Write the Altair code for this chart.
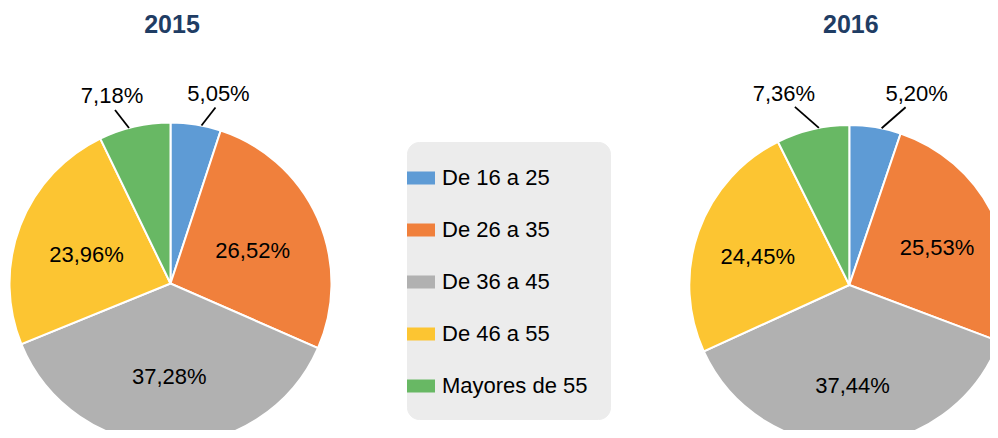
import altair as alt
import pandas as pd

categories = ["De 16 a 25", "De 26 a 35", "De 36 a 45", "De 46 a 55", "Mayores de 55"]
years = ["2015", "2016"]
values_2015 = [5.05, 26.52, 37.28, 23.96, 7.18]
values_2016 = [5.20, 25.53, 37.44, 24.45, 7.36]
colors = ["#5E9BD5", "#F0803C", "#B1B1B1", "#FCC532", "#68B864"]

rows = []
for yr, vals in zip(years, [values_2015, values_2016]):
    for i, (c, v) in enumerate(zip(categories, vals)):
        rows.append({"year": yr, "cat": c, "idx": i, "value": v})
df = pd.DataFrame(rows)

FONT = "Liberation Sans"
color_scale = alt.Scale(domain=categories, range=colors)
legend = alt.Legend(
    title=None, orient="none", legendX=399, legendY=134,
    fillColor="#ECECEC", cornerRadius=12, padding=22, strokeColor="#ECECEC",
    symbolType="M-1,-0.464H1V0.464H-1Z", symbolSize=784, symbolStrokeWidth=0,
    symbolOffset=-22, labelOffset=7, rowPadding=27,
    labelFont=FONT, labelFontSize=22, labelColor="black", labelLimit=300,
)


def pie(year, cx, cy, r, r_label, out, rot, end_off, text_off):
    base = alt.Chart(df).transform_filter(alt.datum.year == year).transform_calculate(
        label="replace(format(datum.value, '.2f'), '.', ',') + '%'"
    )
    arc = base.mark_arc(outerRadius=r, stroke="white", strokeWidth=2, clip=True).encode(
        theta=alt.Theta("value:Q", stack=True),
        color=alt.Color("cat:N", scale=color_scale, legend=legend),
        order=alt.Order("idx:Q"),
        x=alt.value(cx), y=alt.value(cy),
    )
    inner = base.transform_calculate(
        inlabel="datum.value > 10 ? datum.label : ''"
    ).mark_text(radius=r_label, font=FONT, fontSize=22, color="black", dy=4).encode(
        theta=alt.Theta("value:Q", stack=True),
        detail="cat:N",
        order=alt.Order("idx:Q"),
        text="inlabel:N",
        x=alt.value(cx), y=alt.value(cy),
    )
    outer = (
        base.transform_window(cum="sum(value)", sort=[alt.SortField("idx")], frame=[None, 0])
        .transform_joinaggregate(total="sum(value)")
        .transform_calculate(a="2*PI*(datum.cum - datum.value/2)/datum.total")
        .transform_filter("datum.value < 10")
        .transform_calculate(s="sin(datum.a) >= 0 ? 1 : -1")
        .transform_calculate(b=f"datum.a + datum.s*{out} + {rot}")
        .transform_calculate(sx=f"{cx} + {r}*sin(datum.b)")
        .transform_calculate(sy=f"{cy} - {r}*cos(datum.b)")
        .transform_calculate(ex=f"datum.sx + {end_off[0]}*datum.s")
        .transform_calculate(ey=f"datum.sy - {end_off[1]}")
        .transform_calculate(tx=f"datum.sx + {text_off[0]}*datum.s")
        .transform_calculate(ty=f"datum.sy - {text_off[1]}")
    )
    rule = outer.mark_rule(color="black", strokeWidth=1.8).encode(
        x=alt.X("sx:Q", scale=None, axis=None),
        y=alt.Y("sy:Q", scale=None, axis=None),
        x2="ex:Q", y2="ey:Q",
    )
    otext = outer.mark_text(font=FONT, fontSize=22, color="black", baseline="middle").encode(
        x=alt.X("tx:Q", scale=None, axis=None),
        y=alt.Y("ty:Q", scale=None, axis=None),
        text="label:N",
    )
    title = alt.Chart(pd.DataFrame({"year": years})).transform_filter(
        alt.datum.year == year
    ).mark_text(font=FONT, fontSize=25, fontWeight="bold", color="#1F3D64", baseline="middle").encode(
        text="year:N", x=alt.value(cx + 1.5), y=alt.value(17)
    )
    return alt.layer(arc, inner, rule, otext, title)


chart = alt.layer(
    pie("2015", 162.5, 275.5, 161, 90, 0.035, 0.0, (14, 18), (17, 32)),
    pie("2016", 841.3, 277, 160, 97, 0.0, 0.04, (24, 21), (35, 34)),
).resolve_scale(theta="independent").properties(
    width=982, height=422, padding=0, background="white"
).configure_view(stroke=None)

chart.save("out.html", embed_options={"renderer": "svg", "actions": False})
